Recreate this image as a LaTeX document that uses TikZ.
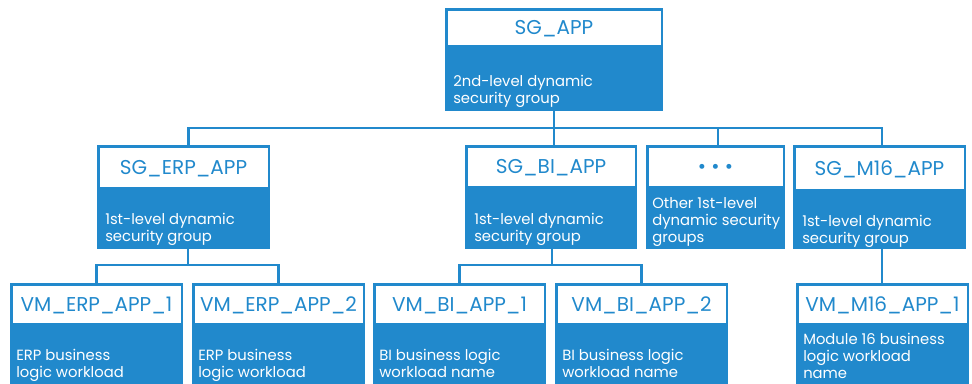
\documentclass[tikz,border=0pt]{standalone}
\usepackage{fontspec}
\setmainfont{Poppins}
\usetikzlibrary{calc,fit}
\definecolor{vblue}{RGB}{33,137,204}
\tikzset{
  boxbg/.style={fill=vblue, inner sep=0pt, outer sep=0pt},
  titlearea/.style={fill=white, inner sep=0pt, outer sep=0pt},
  titletext/.style={text=vblue, font=\fontsize{15}{16}\selectfont, inner sep=0pt, text height=0.7em, text depth=0pt, yshift=-1.8pt},
  bodytext/.style={text=white, font=\fontsize{11.1}{12.9}\selectfont, align=left, inner sep=0pt, anchor=north west},
  conn/.style={draw=vblue, line width=1.7pt},
}
% #1 name, #2 x1, #3 y1, #4 x2, #5 y2, #6 white end y, #7 title, #8 body position, #9 body
\newcommand{\mybox}[9]{%
  \node[boxbg, fit={(#2,#3) (#4,#5)}] (#1) {};
  \node[titlearea, fit={({#2+2.5},{#3+2.5}) ({#4-2.5},#6)}] (#1w) {};
  \node[titletext] (#1t) at (#1w.center) {#7};
  \node[bodytext] (#1b) at (#8) {#9};
}
\begin{document}
\begin{tikzpicture}[x=0.75pt,y=-0.75pt]
\useasboundingbox (0,0) rectangle (972,383);
\clip (0,0) rectangle (972,383);
\mybox{app}{445}{8}{663}{111}{45}{SG\_APP}{453,75}{2nd-level dynamic\\security group}
\mybox{erp}{97}{145}{270}{249}{187}{SG\_ERP\_APP}{105,213}{1st-level dynamic\\security group}
\mybox{bi}{465}{145}{637}{249}{186}{SG\_BI\_APP}{474,213}{1st-level dynamic\\security group}
\mybox{oth}{646}{145}{785}{249}{186}{• • •}{652,197}{Other 1st-level\\dynamic security\\groups}
\mybox{m16}{793}{145}{966}{249}{189}{SG\_M16\_APP}{802,215}{1st-level dynamic\\security group}
\mybox{va}{10}{283}{183}{395}{323}{VM\_ERP\_APP\_1}{16,349}{ERP business\\logic workload}
\mybox{vb}{192}{283}{365}{395}{323}{VM\_ERP\_APP\_2}{198,349}{ERP business\\logic workload}
\mybox{vc}{373}{283}{546}{395}{323}{VM\_BI\_APP\_1}{379,349}{BI business logic\\workload name}
\mybox{vd}{555}{283}{728}{395}{323}{VM\_BI\_APP\_2}{562,349}{BI business logic\\workload name}
\mybox{ve}{796}{283}{969}{395}{323}{VM\_M16\_APP\_1}{803,333}{Module 16 business\\logic workload\\name}
% first-level connectors
\coordinate (bus) at (0,128);
\coordinate (erpin) at ($(erp.north)+(5,0)$);
\coordinate (biin) at ($(bi.north)+(3,0)$);
\coordinate (othin) at ($(oth.north)+(2.5,0)$);
\coordinate (m16in) at ($(m16.north)+(2.5,0)$);
\draw[conn] (app.south) -- (app.south |- bus);
\draw[conn] (erpin) -- (erpin |- bus) -- (m16in |- bus) -- (m16in);
\draw[conn] (biin) -- (biin |- bus);
\draw[conn] (othin) -- (othin |- bus);
% second-level connectors
\coordinate (bus2) at (0,265);
\coordinate (erpout) at ($(erp.south)+(4.5,0)$);
\coordinate (biout) at ($(bi.south)+(1,0)$);
\coordinate (m16out) at ($(m16.south)+(2.5,0)$);
\draw[conn] (erpout) -- (erpout |- bus2);
\draw[conn] (va.north) -- (va.north |- bus2) -- (vb.north |- bus2) -- (vb.north);
\draw[conn] (biout) -- (biout |- bus2);
\draw[conn] (vc.north) -- (vc.north |- bus2) -- (vd.north |- bus2) -- (vd.north);
\draw[conn] (m16out) -- (m16out |- ve.north);
\end{tikzpicture}
\end{document}
